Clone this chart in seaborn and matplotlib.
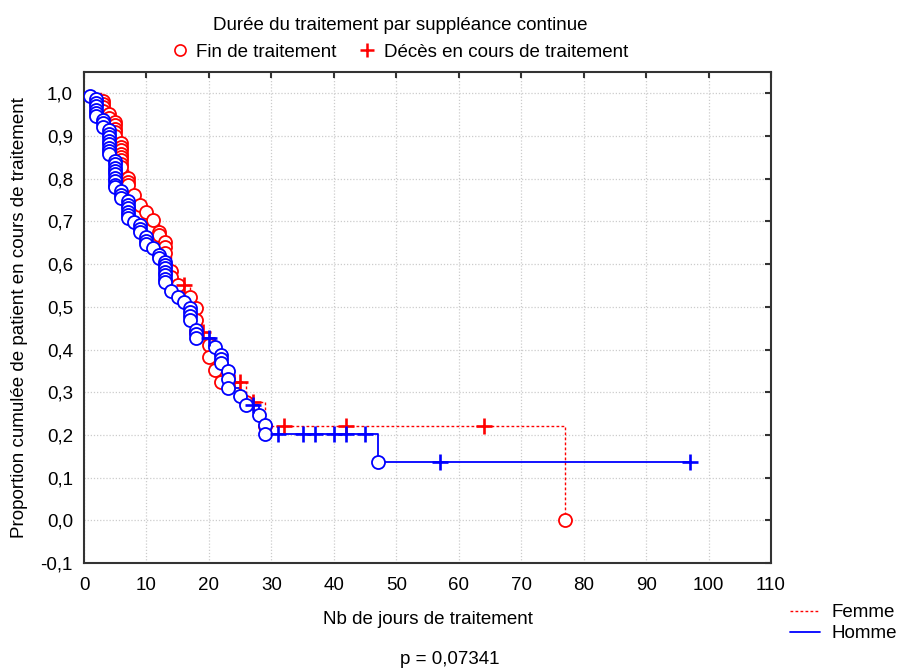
import numpy as np
import pandas as pd
import matplotlib
matplotlib.use("Agg")
import matplotlib.pyplot as plt
from matplotlib.lines import Line2D
import seaborn as sns

# ---------------- data ----------------
# Homme : fin de traitement (circles)
homme_fin_t = [1,
               2, 2, 2, 2, 2, 2,
               3, 3, 3,
               4, 4, 4, 4, 4, 4, 4, 4,
               5, 5, 5, 5, 5, 5, 5, 5, 5,
               6, 6, 6,
               7, 7, 7, 7, 7, 7,
               8,
               9, 9, 9,
               10, 10, 10,
               11,
               12, 12,
               13, 13, 13, 13, 13, 13, 13,
               14, 15, 16,
               17, 17, 17, 17,
               18, 18, 18,
               21,
               22, 22, 22,
               23, 23, 23,
               25, 26, 28,
               29, 29,
               47]
homme_fin_s = [0.994,
               0.986, 0.978, 0.970, 0.962, 0.955, 0.947,
               0.938, 0.930, 0.922,
               0.913, 0.905, 0.897, 0.889, 0.881, 0.873, 0.865, 0.857,
               0.842, 0.834, 0.826, 0.818, 0.810, 0.802, 0.794, 0.786, 0.780,
               0.771, 0.763, 0.755,
               0.747, 0.739, 0.731, 0.723, 0.715, 0.707,
               0.699,
               0.691, 0.683, 0.675,
               0.663, 0.655, 0.647,
               0.638,
               0.622, 0.614,
               0.606, 0.598, 0.590, 0.582, 0.574, 0.566, 0.558,
               0.536, 0.524, 0.512,
               0.497, 0.488, 0.478, 0.469,
               0.446, 0.437, 0.428,
               0.407,
               0.388, 0.378, 0.369,
               0.349, 0.330, 0.311,
               0.290, 0.271, 0.247,
               0.224, 0.202,
               0.136]
# Homme : décès en cours de traitement (crosses)
homme_dc_t = [20, 27, 31, 35, 37, 40, 42, 45, 57, 97]
homme_dc_s = [0.428, 0.271, 0.202, 0.202, 0.202, 0.202, 0.202, 0.202, 0.136, 0.136]

# Femme : fin de traitement (circles)
femme_fin_t = [3, 3, 3, 3,
               4, 4,
               5, 5, 5, 5, 5,
               6, 6, 6, 6, 6, 6, 6, 6,
               7, 7, 7,
               8, 9, 10, 11,
               12, 12,
               13, 13, 13,
               14, 14,
               15,
               17,
               18, 18, 18,
               20, 20,
               21, 22, 26, 29,
               77]
femme_fin_s = [0.983, 0.975, 0.967, 0.959,
               0.951, 0.943,
               0.933, 0.925, 0.917, 0.909, 0.901,
               0.883, 0.875, 0.867, 0.859, 0.851, 0.843, 0.835, 0.828,
               0.802, 0.793, 0.785,
               0.762, 0.738, 0.722, 0.703,
               0.676, 0.669,
               0.653, 0.640, 0.627,
               0.584, 0.571,
               0.550,
               0.524,
               0.497, 0.470, 0.440,
               0.411, 0.382,
               0.353, 0.323, 0.278, 0.222,
               0.0]
# Femme : décès en cours de traitement (crosses)
femme_dc_t = [16, 19, 24, 25, 27, 32, 42, 64]
femme_dc_s = [0.550, 0.440, 0.323, 0.323, 0.278, 0.222, 0.222, 0.222]

x_ticks = list(range(0, 111, 10))
y_ticks = [-0.1, 0.0, 0.1, 0.2, 0.3, 0.4, 0.5, 0.6, 0.7, 0.8, 0.9, 1.0]

RED = "#ff0000"
BLUE = "#0000ff"

# ---------------- style ----------------
sns.set_theme(style="white")
plt.rcParams["font.family"] = ["Liberation Sans", "DejaVu Sans"]
plt.rcParams["text.color"] = "black"
plt.rcParams["axes.labelcolor"] = "black"
plt.rcParams["xtick.color"] = "black"
plt.rcParams["ytick.color"] = "black"
FS = 13.5

fig = plt.figure(figsize=(8.98, 6.72), dpi=100)
W, H = 898, 672
ax = fig.add_axes([84 / W, 1 - 563 / H, (771 - 84) / W, (563 - 72) / H])


def step_frame(ft, fs, ct, cs):
    df = pd.DataFrame({"t": list(ft) + list(ct), "s": list(fs) + list(cs)})
    df = df.groupby("t", as_index=False)["s"].min().sort_values("t")
    df = pd.concat([pd.DataFrame({"t": [0], "s": [1.0]}), df], ignore_index=True)
    return df


femme_line = step_frame(femme_fin_t, femme_fin_s, femme_dc_t, femme_dc_s)
homme_line = step_frame(homme_fin_t, homme_fin_s, homme_dc_t, homme_dc_s)

# lines
sns.lineplot(data=femme_line, x="t", y="s", ax=ax, estimator=None, sort=False,
             drawstyle="steps-post", color=RED, linewidth=1.0,
             dashes=False, zorder=2)
ax.lines[-1].set_dashes([2, 1.6])
sns.lineplot(data=homme_line, x="t", y="s", ax=ax, estimator=None, sort=False,
             drawstyle="steps-post", color=BLUE, linewidth=1.3, zorder=3)

# markers
femme_fin = pd.DataFrame({"t": femme_fin_t, "s": femme_fin_s})
homme_fin = pd.DataFrame({"t": homme_fin_t, "s": homme_fin_s})
femme_dc = pd.DataFrame({"t": femme_dc_t, "s": femme_dc_s})
homme_dc = pd.DataFrame({"t": homme_dc_t, "s": homme_dc_s})

MS = 88
sns.scatterplot(data=femme_fin, x="t", y="s", ax=ax, marker="o", s=MS,
                facecolor="white", edgecolor=RED, linewidth=1.3, zorder=4)
sns.scatterplot(data=femme_dc, x="t", y="s", ax=ax, marker="+", s=120,
                color=RED, linewidth=1.9, zorder=5)
sns.scatterplot(data=homme_fin, x="t", y="s", ax=ax, marker="o", s=MS,
                facecolor="white", edgecolor=BLUE, linewidth=1.3, zorder=6)
sns.scatterplot(data=homme_dc, x="t", y="s", ax=ax, marker="+", s=120,
                color=BLUE, linewidth=1.9, zorder=7)

# axes
ax.set_xlim(0, 110)
ax.set_ylim(-0.1, 1.05)
ax.set_xticks(x_ticks)
ax.set_xticklabels([str(v) for v in x_ticks], fontsize=FS)
ax.set_yticks(y_ticks)
ax.set_yticklabels([f"{v:.1f}".replace(".", ",") for v in y_ticks], fontsize=FS)
ax.tick_params(axis="both", direction="in", length=4, width=1.5, color="#333333",
               top=True, right=True, labelcolor="black")
ax.tick_params(axis="x", pad=10)
ax.tick_params(axis="y", pad=8)
ax.grid(True, color="#cccccc", linestyle=(0, (1, 1.5)), linewidth=0.9)
for sp in ax.spines.values():
    sp.set_color("#333333")
    sp.set_linewidth(1.5)
ax.set_xlabel("Nb de jours de traitement", fontsize=FS, labelpad=12, color="black")
ax.set_ylabel("Proportion cumulée de patient en cours de traitement",
              fontsize=FS, labelpad=9, color="black")

# top legend
top_handles = [
    Line2D([], [], marker="o", linestyle="None", markerfacecolor="white",
           markeredgecolor=RED, markersize=8, markeredgewidth=1.2),
    Line2D([], [], marker="+", linestyle="None", color=RED, markersize=10,
           markeredgewidth=1.8),
]
fig.legend(top_handles, ["Fin de traitement", "Décès en cours de traitement"],
           ncol=2, loc="upper center", bbox_to_anchor=(400 / W, 1 - 4 / H),
           frameon=False, fontsize=FS, title="Durée du traitement par suppléance continue",
           title_fontsize=FS, handlelength=0.8, handletextpad=0.5,
           columnspacing=1.2, borderpad=0.2, labelcolor="black")

# bottom right legend
bot_handles = [
    Line2D([], [], color=RED, linewidth=1.0, dashes=[2, 1.6]),
    Line2D([], [], color=BLUE, linewidth=1.3),
]
fig.legend(bot_handles, ["Femme", "Homme"], loc="upper left",
           bbox_to_anchor=(777 / W, 1 - 591 / H), frameon=False, fontsize=FS,
           handlelength=1.6, handletextpad=0.6, labelspacing=0.2, borderpad=0.2,
           labelcolor="black")

fig.text(450 / W, 1 - 660 / H, "p = 0,07341", ha="center", va="center",
         fontsize=FS, color="black")

fig.savefig("out.png", dpi=100)
